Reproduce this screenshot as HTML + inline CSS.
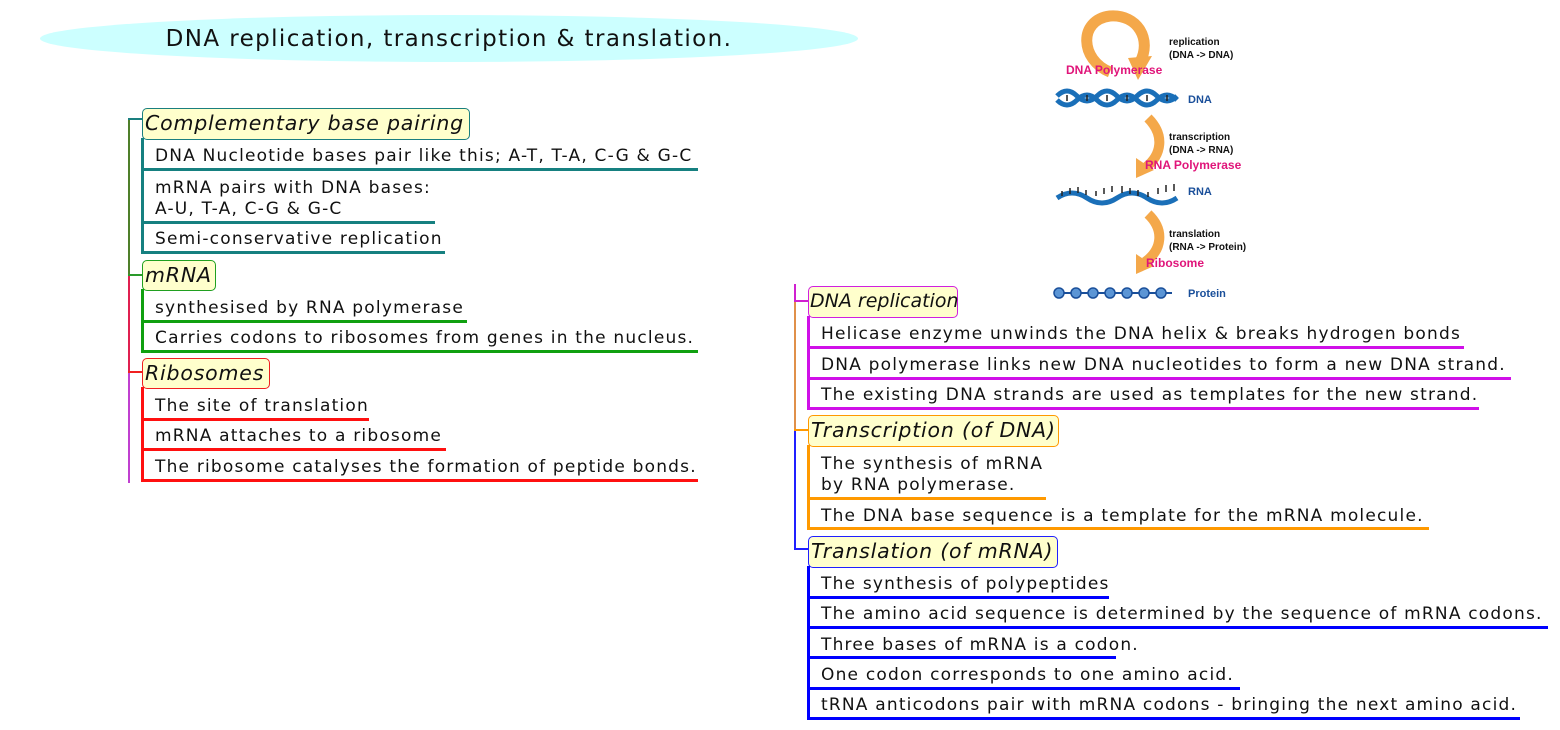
<!DOCTYPE html>
<html><head><meta charset="utf-8"><style>
body{margin:0;width:1560px;height:730px;background:#fff;position:relative;overflow:hidden;font-family:"DejaVu Sans","Liberation Sans",sans-serif;}
.a{position:absolute;}
.box{position:absolute;background:#ffffcc;border:1.5px solid;border-radius:5px;font-style:italic;font-size:20.5px;letter-spacing:0.8px;line-height:29px;padding:0 2px;box-sizing:border-box;color:#111;white-space:nowrap;}
.t{position:absolute;font-size:17px;letter-spacing:1.2px;line-height:20px;color:#111;white-space:nowrap;}
.u{position:absolute;height:3px;border-bottom-left-radius:3px;}
.v{position:absolute;width:3px;}
</style></head><body>
<div class="a" style="left:40px;top:15px;width:818px;height:47px;border-radius:50%;background:#ccffff;"></div>
<div class="a" style="left:40px;top:24px;width:818px;text-align:center;font-size:23px;letter-spacing:1.4px;line-height:30px;color:#111;white-space:nowrap;">DNA replication, transcription &amp; translation.</div>

<div class="a" style="left:128px;top:118px;width:2px;height:157px;background:#4f7f2a"></div>
<div class="a" style="left:128px;top:275px;width:2px;height:97px;background:#e02050"></div>
<div class="a" style="left:128px;top:372px;width:2px;height:111px;background:#c040d0"></div>
<div class="a" style="left:128px;top:118px;width:14px;height:2px;background:#1a7f7f"></div>
<div class="a" style="left:128px;top:274px;width:14px;height:2px;background:#2a9a2a"></div>
<div class="a" style="left:128px;top:371px;width:14px;height:2px;background:#f02020"></div>

<div class="box" style="left:142px;top:108px;width:328px;height:32px;border-color:#1a7f7f">Complementary base pairing</div>
<div class="v" style="left:141px;top:138px;height:116px;background:#168080"></div>
<div class="t" style="left:155px;top:146px">DNA Nucleotide bases pair like this; A-T, T-A, C-G &amp; G-C</div>
<div class="u" style="left:141px;top:168px;width:557px;background:#168080"></div>
<div class="t" style="left:155px;top:178px;line-height:21px">mRNA pairs with DNA bases:<br>A-U, T-A, C-G &amp; G-C</div>
<div class="u" style="left:141px;top:221px;width:294px;background:#168080"></div>
<div class="t" style="left:155px;top:229px">Semi-conservative replication</div>
<div class="u" style="left:141px;top:251px;width:304px;background:#168080"></div>

<div class="box" style="left:142px;top:260px;width:74px;height:31px;border-color:#20a020">mRNA</div>
<div class="v" style="left:141px;top:289px;height:64px;background:#10a010"></div>
<div class="t" style="left:155px;top:298px">synthesised by RNA polymerase</div>
<div class="u" style="left:141px;top:320px;width:326px;background:#10a010"></div>
<div class="t" style="left:155px;top:328px">Carries codons to ribosomes from genes in the nucleus.</div>
<div class="u" style="left:141px;top:350px;width:557px;background:#10a010"></div>

<div class="box" style="left:142px;top:358px;width:128px;height:31px;border-color:#f02020">Ribosomes</div>
<div class="v" style="left:141px;top:387px;height:95px;background:#ff1010"></div>
<div class="t" style="left:155px;top:396px">The site of translation</div>
<div class="u" style="left:141px;top:418px;width:228px;background:#ff1010"></div>
<div class="t" style="left:155px;top:426px">mRNA attaches to a ribosome</div>
<div class="u" style="left:141px;top:448px;width:305px;background:#ff1010"></div>
<div class="t" style="left:155px;top:457px">The ribosome catalyses the formation of peptide bonds.</div>
<div class="u" style="left:141px;top:479px;width:557px;background:#ff1010"></div>

<div class="a" style="left:794px;top:284px;width:2px;height:17px;background:#d020d0"></div>
<div class="a" style="left:794px;top:301px;width:2px;height:129px;background:#e0904a"></div>
<div class="a" style="left:794px;top:430px;width:2px;height:119px;background:#2020ff"></div>
<div class="a" style="left:794px;top:300px;width:14px;height:2px;background:#d020d0"></div>
<div class="a" style="left:794px;top:429px;width:14px;height:2px;background:#ff9900"></div>
<div class="a" style="left:794px;top:548px;width:14px;height:2px;background:#2020ff"></div>

<div class="box" style="left:808px;top:286px;width:150px;height:32px;border-color:#d020e0;letter-spacing:0;font-size:19px;padding:0 1px">DNA replication</div>
<div class="v" style="left:807px;top:316px;height:94px;background:#d010e8"></div>
<div class="t" style="left:821px;top:324px">Helicase enzyme unwinds the DNA helix &amp; breaks hydrogen bonds</div>
<div class="u" style="left:807px;top:346px;width:657px;background:#d010e8"></div>
<div class="t" style="left:821px;top:355px">DNA polymerase links new DNA nucleotides to form a new DNA strand.</div>
<div class="u" style="left:807px;top:377px;width:704px;background:#d010e8"></div>
<div class="t" style="left:821px;top:385px">The existing DNA strands are used as templates for the new strand.</div>
<div class="u" style="left:807px;top:407px;width:672px;background:#d010e8"></div>

<div class="box" style="left:808px;top:415px;width:251px;height:32px;border-color:#ff9900">Transcription (of DNA)</div>
<div class="v" style="left:807px;top:445px;height:85px;background:#ff9900"></div>
<div class="t" style="left:821px;top:454px;line-height:21px">The synthesis of mRNA<br>by RNA polymerase.</div>
<div class="u" style="left:807px;top:497px;width:239px;background:#ff9900"></div>
<div class="t" style="left:821px;top:506px">The DNA base sequence is a template for the mRNA molecule.</div>
<div class="u" style="left:807px;top:527px;width:622px;background:#ff9900"></div>

<div class="box" style="left:808px;top:536px;width:250px;height:32px;border-color:#2020ff">Translation (of mRNA)</div>
<div class="v" style="left:807px;top:566px;height:154px;background:#0000ff"></div>
<div class="t" style="left:821px;top:574px">The synthesis of polypeptides</div>
<div class="u" style="left:807px;top:596px;width:302px;background:#0000ff"></div>
<div class="t" style="left:821px;top:604px">The amino acid sequence is determined by the sequence of mRNA codons.</div>
<div class="u" style="left:807px;top:626px;width:741px;background:#0000ff"></div>
<div class="t" style="left:821px;top:635px">Three bases of mRNA is a codon.</div>
<div class="u" style="left:807px;top:656px;width:309px;background:#0000ff"></div>
<div class="t" style="left:821px;top:665px">One codon corresponds to one amino acid.</div>
<div class="u" style="left:807px;top:687px;width:433px;background:#0000ff"></div>
<div class="t" style="left:821px;top:695px">tRNA anticodons pair with mRNA codons - bringing the next amino acid.</div>
<div class="u" style="left:807px;top:717px;width:713px;background:#0000ff"></div>

<svg class="a" style="left:1040px;top:0" width="240" height="310" viewBox="0 0 240 310" font-family="Liberation Sans, sans-serif" font-weight="bold">
  <path d="M70 72 C40 60 38 20 70 16 C98 14 112 40 100 62" fill="none" stroke="#f4a84a" stroke-width="11"/>
  <polygon points="88,58 112,56 98,80" fill="#f4a84a"/>
  <text x="129" y="45" font-size="10" fill="#111">replication</text>
  <text x="129" y="58" font-size="10" fill="#111">(DNA -&gt; DNA)</text>
  <text x="26" y="74" font-size="12" fill="#e0157a">DNA Polymerase</text>
  <path d="M17 96 q10 -10 20 0 t20 0 t20 0 t20 0 t20 0 t20 0" fill="none" stroke="#1a6fb8" stroke-width="5"/>
  <path d="M17 100 q10 10 20 0 t20 0 t20 0 t20 0 t20 0 t20 0" fill="none" stroke="#1a6fb8" stroke-width="5"/>
  <path d="M27 95v6M47 95v6M67 95v6M87 95v6M107 95v6M127 95v6" stroke="#222" stroke-width="1.5"/>
  <text x="148" y="103" font-size="11" fill="#1a4f9a">DNA</text>
  <path d="M108 118 C125 135 122 155 105 168" fill="none" stroke="#f4a84a" stroke-width="10"/>
  <polygon points="96,158 114,170 96,178" fill="#f4a84a"/>
  <text x="129" y="140" font-size="10" fill="#111">transcription</text>
  <text x="129" y="153" font-size="10" fill="#111">(DNA -&gt; RNA)</text>
  <text x="105" y="169" font-size="12" fill="#e0157a">RNA Polymerase</text>
  <path d="M17 198 q15 -10 30 0 t30 0 t30 0 t30 0" fill="none" stroke="#1a6fb8" stroke-width="5"/>
  <path d="M22 196v-5M30 194v-6M38 193v-6M46 195v-5M56 196v-5M64 194v-6M72 192v-6M82 193v-7M90 194v-6M98 196v-6M108 197v-5M118 194v-6M126 192v-7M134 191v-7" stroke="#222" stroke-width="1.5"/>
  <text x="148" y="195" font-size="11" fill="#1a4f9a">RNA</text>
  <path d="M108 214 C125 230 122 250 105 262" fill="none" stroke="#f4a84a" stroke-width="10"/>
  <polygon points="96,254 114,266 96,274" fill="#f4a84a"/>
  <text x="129" y="237" font-size="10" fill="#111">translation</text>
  <text x="129" y="250" font-size="10" fill="#111">(RNA -&gt; Protein)</text>
  <text x="106" y="267" font-size="12" fill="#e0157a">Ribosome</text>
  <line x1="17" y1="293" x2="132" y2="293" stroke="#1a4f9a" stroke-width="2"/>
  <g fill="#5b95d5" stroke="#1a4f9a" stroke-width="1.5">
    <circle cx="19" cy="293" r="5"/><circle cx="36" cy="293" r="5"/><circle cx="53" cy="293" r="5"/><circle cx="70" cy="293" r="5"/><circle cx="87" cy="293" r="5"/><circle cx="104" cy="293" r="5"/><circle cx="121" cy="293" r="5"/>
  </g>
  <text x="148" y="297" font-size="11" fill="#1a4f9a">Protein</text>
</svg>
</body></html>
